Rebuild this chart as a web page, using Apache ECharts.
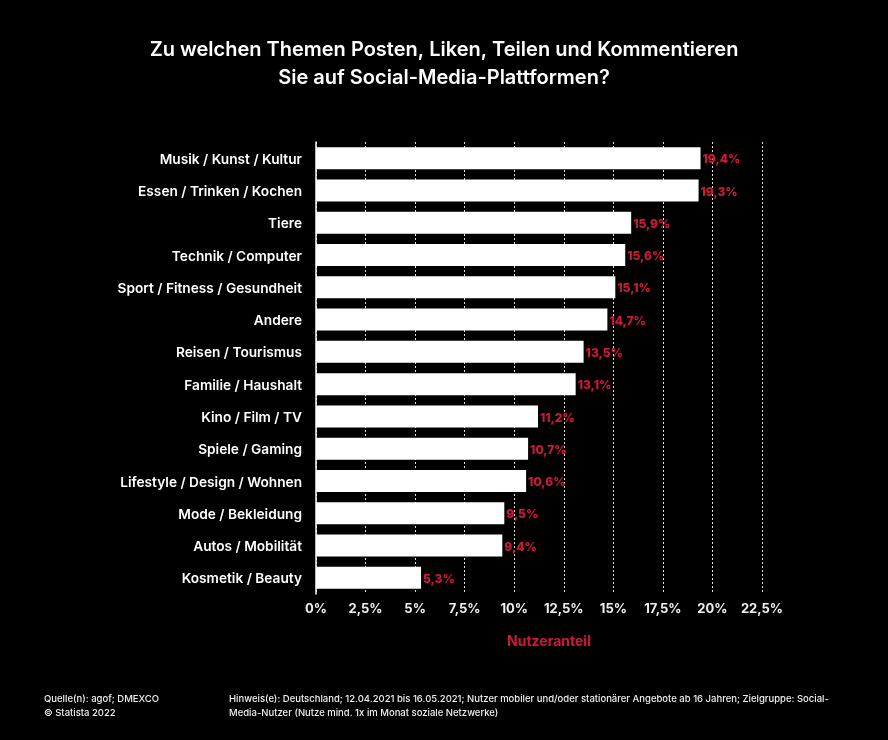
<!DOCTYPE html>
<html>
<head>
<meta charset="utf-8">
<style>
  html, body { margin: 0; padding: 0; background: #000; }
  #chart { width: 888px; height: 740px; }
</style>
<script src="https://cdn.jsdelivr.net/npm/echarts@6/dist/echarts.min.js"></script>
</head>
<body>
<div id="chart"></div>
<script>
var categories = ['Musik / Kunst / Kultur', 'Essen / Trinken / Kochen', 'Tiere', 'Technik / Computer',
  'Sport / Fitness / Gesundheit', 'Andere', 'Reisen / Tourismus', 'Familie / Haushalt', 'Kino / Film / TV',
  'Spiele / Gaming', 'Lifestyle / Design / Wohnen', 'Mode / Bekleidung', 'Autos / Mobilität', 'Kosmetik / Beauty']
var values = [19.4, 19.3, 15.9, 15.6, 15.1, 14.7, 13.5, 13.1, 11.2, 10.7, 10.6, 9.5, 9.4, 5.3]

var titleText = 'Zu welchen Themen Posten, Liken, Teilen und Kommentieren\nSie auf Social-Media-Plattformen?'
var axisName = 'Nutzeranteil'
var sourceText = 'Quelle(n): agof; DMEXCO\n© Statista 2022'
var noteText = 'Hinweis(e): Deutschland; 12.04.2021 bis 16.05.2021; Nutzer mobiler und/oder stationärer Angebote ab 16 Jahren; Zielgruppe: Social-\nMedia-Nutzer (Nutze mind. 1x im Monat soziale Netzwerke)'

var FONT = 'Inter, "Liberation Sans", sans-serif'
var RED = '#d0183c'

function comma(v) {
  return String(v).replace('.', ',') + '%'
}

var chart = echarts.init(document.getElementById('chart'))

chart.setOption({
  backgroundColor: '#000',
  animation: false,
  textStyle: { fontFamily: FONT },
  title: [
    {
      text: titleText, left: 444, top: 36, textAlign: 'center', padding: 0,
      textStyle: { color: '#fff', fontSize: 20, fontWeight: 600, lineHeight: 28, fontFamily: FONT }
    },
    {
      text: sourceText, left: 44, top: 692, padding: 0,
      textStyle: { color: '#eee', fontSize: 9.5, fontWeight: 500, lineHeight: 14, fontFamily: FONT }
    },
    {
      text: noteText, left: 229, top: 692, padding: 0,
      textStyle: { color: '#eee', fontSize: 9.5, fontWeight: 500, lineHeight: 14, fontFamily: FONT }
    }
  ],
  grid: { left: 316, top: 142, width: 446, height: 452 },
  xAxis: {
    type: 'value', min: 0, max: 22.5, interval: 2.5,
    axisLine: { show: false },
    axisTick: { show: false },
    axisLabel: {
      color: '#eee', fontSize: 13, fontWeight: 700, margin: 9,
      formatter: comma
    },
    splitLine: { show: true, lineStyle: { color: '#ddd', type: [2, 2], width: 1 } },
    name: axisName, nameLocation: 'middle', nameGap: 41,
    nameTextStyle: { color: RED, fontSize: 14, fontWeight: 700, padding: [0, 0, 0, 20] }
  },
  yAxis: {
    type: 'category', inverse: true, data: categories,
    axisLine: { show: true, lineStyle: { color: '#fff', width: 1.5 } },
    axisTick: { show: false },
    axisLabel: { color: '#fff', fontSize: 13.7, fontWeight: 600, margin: 14, verticalAlign: 'top', lineHeight: 3 }
  },
  series: [{
    type: 'bar', data: values, barWidth: 22,
    itemStyle: { color: '#fff' },
    label: {
      show: true, position: 'right', distance: 2, color: RED, fontSize: 12, fontWeight: 800, offset: [0, 1.5],
      formatter: function (p) { return comma(p.value) }
    }
  }]
})
</script>
</body>
</html>
